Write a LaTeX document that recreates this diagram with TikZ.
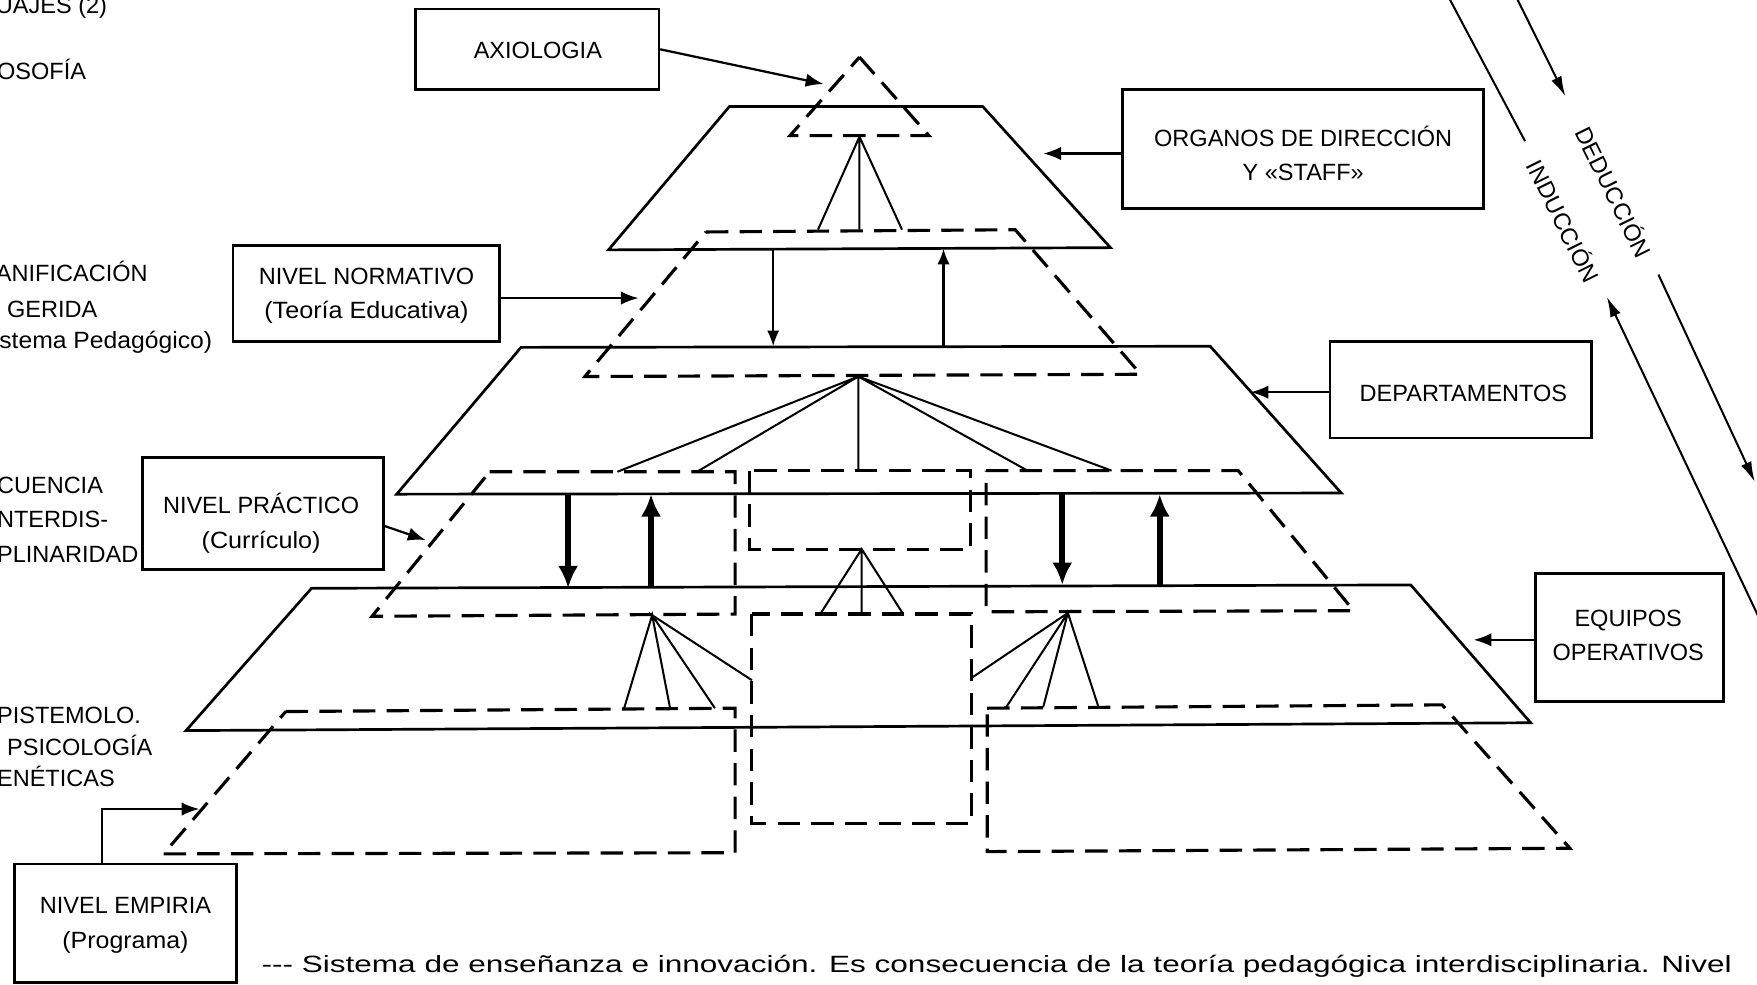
\documentclass[tikz,border=0pt]{standalone}
\usepackage{fontspec}
\usepackage{graphicx}
\setmainfont{Liberation Sans}
\usetikzlibrary{arrows.meta}
\newcommand{\hwide}[2][1.07]{\scalebox{#1}[1]{#2}}
\begin{document}
\begin{tikzpicture}[x=0.5pt,y=-0.5pt,
  solidline/.style={line width=1.2pt, line join=miter},
  dashline/.style={line width=1.4pt, dash pattern=on 10pt off 5pt},
  fanline/.style={line width=0.9pt},
  boxnode/.style={draw, line width=1.2pt, inner sep=0pt},
  boxtext/.style={inner sep=0pt, font=\fontsize{10.5}{15.5}\selectfont, align=center},
  lbl/.style={anchor=base west, inner sep=0pt, font=\fontsize{10.5}{12}\selectfont},
  boxarrow/.style={line width=1pt, -{Latex[length=8pt,width=6pt]}},
  thinarrow/.style={line width=0.9pt, -{Latex[length=7pt,width=5.5pt]}},
  thickarrow/.style={line width=2.6pt, -{Latex[length=10pt,width=9pt]}},
  sideline/.style={line width=0.9pt},
  sidearrow/.style={line width=0.9pt, -{Latex[length=9pt,width=5pt]}},
  sidetext/.style={inner sep=0pt, font=\fontsize{10.5}{12}\selectfont},
]
\useasboundingbox (0,0) rectangle (1568,879);
\clip (0,0) rectangle (1568,879);
\fill[white] (0,0) rectangle (1568,879);

% ---------- left column labels (cut off) ----------
\node[lbl] (l1) at (-4,12) {UAJES (2)};
\node[lbl] (l2) at (-3,71) {OSOFÍA};
\node[lbl] (l3) at (-4,251) {ANIFICACIÓN};
\node[lbl] (l4) at (6,283) {GERIDA};
\node[lbl] (l5) at (-1,311) {\hwide[1.05]{stema Pedagógico)}};
\node[lbl] (l6) at (-3,440) {CUENCIA};
\node[lbl] (l7) at (-3,471) {NTERDIS-};
\node[lbl] (l8) at (-3,502) {PLINARIDAD};
\node[lbl] (l9) at (-3,646) {PISTEMOLO.};
\node[lbl] (l10) at (6,674) {PSICOLOGÍA};
\node[lbl] (l11) at (-3,702) {ENÉTICAS};

% ---------- pyramid: solid trapezoids ----------
\draw[solidline] (651,95) -- (877,95) -- (991,221) -- (543,223) -- cycle;
\draw[solidline] (465,310) -- (1080,309) -- (1197,440) -- (354,441) -- cycle;
\draw[solidline] (278,525) -- (1259,522) -- (1366,645) -- (166,652) -- cycle;

% ---------- pyramid: dashed shapes ----------
\draw[dashline] (767,51) -- (829,121) -- (705,121) -- cycle;
\draw[dashline] (630,207) -- (906,205) -- (1018,334) -- (522,336) -- cycle;
\draw[dashline] (437,421) -- (656,421) -- (656,548) -- (332,550) -- cycle;
\draw[dashline] (669,420) rectangle (866,490);
\draw[dashline] (880,420) -- (1105,420) -- (1208,545) -- (880,546) -- cycle;
\draw[dashline] (255,635) -- (656,632) -- (656,761) -- (146,762) -- cycle;
\draw[dashline] (671,548) rectangle (867,735);
\draw[dashline] (881,632) -- (1287,629) -- (1401,757) -- (881,760) -- cycle;

% ---------- fans ----------
\draw[fanline] (730,205) -- (767,122) -- (805,205) (767,122) -- (767,205);
\draw[fanline] (551,421) -- (766,336) -- (622,421)
               (766,336) -- (766,420)
               (917,420) -- (766,336) -- (992,420);
\draw[fanline] (732,548) -- (769,490) -- (806,548) (769,490) -- (769,548);
\draw[fanline] (557,632) -- (582,549) -- (598,632)
               (638,632) -- (582,549) -- (671,607);
\draw[fanline] (867,605) -- (953,547) -- (898,631)
               (931,631) -- (953,547) -- (980,630);

% ---------- vertical arrows ----------
\draw[thinarrow] (690,223) -- (690,309);
\draw[thinarrow] (842,309) -- (842,222);
\draw[thickarrow] (507,441) -- (507,525);
\draw[thickarrow] (581,525) -- (581,441);
\draw[thickarrow] (948,441) -- (948,522);
\draw[thickarrow] (1035,522) -- (1035,441);

% ---------- boxes ----------
\node[boxnode, minimum width=108.5pt, minimum height=36pt] (ax) at (479.5,44) {};
\node[boxnode, minimum width=161pt, minimum height=53pt] (org) at (1163,133) {};
\node[boxnode, minimum width=119pt, minimum height=43pt] (nn) at (327,262) {};
\node[boxnode, minimum width=116.5pt, minimum height=43pt] (dep) at (1303.5,348) {};
\node[boxnode, minimum width=107.5pt, minimum height=50pt] (np) at (234.5,458) {};
\node[boxnode, minimum width=84pt, minimum height=57pt] (eq) at (1454,569) {};
\node[boxnode, minimum width=99pt, minimum height=53pt] (ne) at (112,824) {};

\node[boxtext] (axt) at (480,45) {AXIOLOGIA};
\node[boxtext] (orgt) at (1163,137) {ORGANOS DE DIRECCIÓN\\Y «STAFF»};
\node[boxtext] (nnt) at (327,264) {NIVEL NORMATIVO\\\hwide{(Teoría Educativa)}};
\node[boxtext] (dept) at (1306,351) {DEPARTAMENTOS};
\node[boxtext] (npt) at (233,467) {NIVEL PRÁCTICO\\\hwide{(Currículo)}};
\node[boxtext] (eqt) at (1453,567) {EQUIPOS\\OPERATIVOS};
\node[boxtext] (net) at (112,826) {NIVEL EMPIRIA\\\hwide[1.06]{(Programa)}};

% ---------- box connectors ----------
\coordinate (axtip) at (735,75);
\coordinate (orgtip) at (931,137);
\coordinate (nntip) at (570,266);
\coordinate (deptip) at (1116,350);
\coordinate (npstart) at (342,469);
\coordinate (nptip) at (380,482);
\coordinate (eqtip) at (1315,571);
\coordinate (nebend) at (91,722);
\coordinate (netip) at (178,722);
\draw[boxarrow] (ax.east) -- (axtip);
\draw[boxarrow] (orgtip -| org.west) -- (orgtip);
\draw[boxarrow] (nntip -| nn.east) -- (nntip);
\draw[boxarrow] (deptip -| dep.west) -- (deptip);
\draw[boxarrow] (npstart) -- (nptip);
\draw[boxarrow] (eqtip -| eq.west) -- (eqtip);
\draw[boxarrow] (nebend |- ne.north) -- (nebend) -- (netip);

% ---------- deduction / induction ----------
\node[sidetext, rotate=-63.7] (ded) at (1441,171) {DEDUCCIÓN};
\node[sidetext, rotate=-63.5] (ind) at (1396,197) {INDUCCIÓN};
\coordinate (d0) at (1352,-5);
\coordinate (d1) at (1397,86);
\coordinate (d2) at (1480,245);
\coordinate (d3) at (1566,430);
\coordinate (i0) at (1292,-4);
\coordinate (i1) at (1361,126);
\coordinate (i2) at (1434,265);
\coordinate (i3) at (1572,556);
\draw[sidearrow] (d0) -- (d1);
\draw[sidearrow] (d2) -- (d3);
\draw[sideline] (i0) -- (i1);
\draw[sidearrow] (i3) -- (i2);

% ---------- caption ----------
\node[anchor=base west, inner sep=0pt, font=\fontsize{10.5}{12}\selectfont] (cap) at (233,868)
  {\resizebox{656pt}{\height}{-{}-{}- Sistema de enseñanza e innovación. Es consecuencia de la teoría pedagógica interdisciplinaria. Nivel}};
\end{tikzpicture}
\end{document}
